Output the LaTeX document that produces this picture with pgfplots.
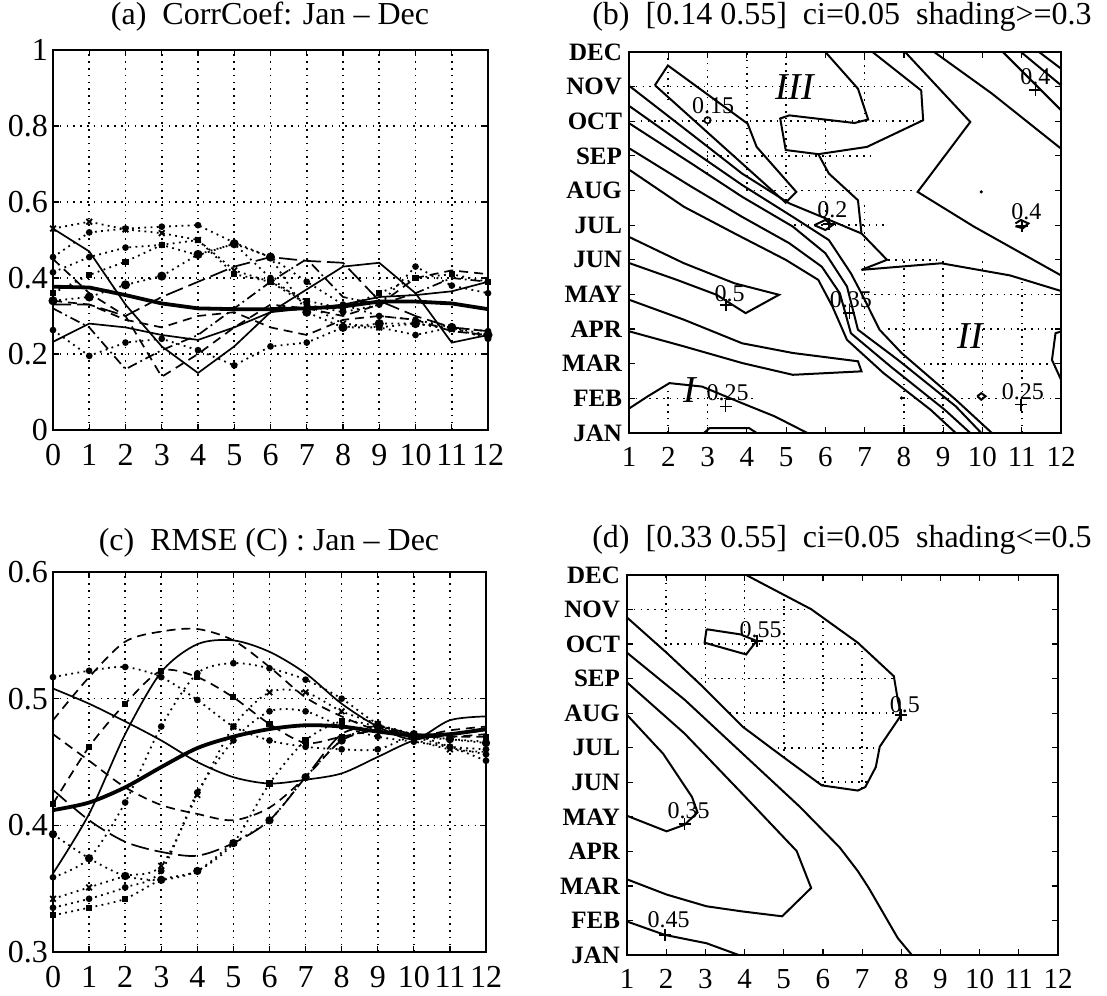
\documentclass[border=0pt]{standalone}
\usepackage{fontspec}
\setmainfont{Liberation Serif}
\usepackage{pgfplots}
\usepackage{pgfplotstable}
\pgfplotsset{compat=1.18}

% (a) correlation by lead, one column per start month, M = mean
\pgfplotstableread{
lead A B C D E F G H I J K L M
0 0.53 0.232 0.455 0.53 0.415 0.36 0.34 0.45 0.32 0.33 0.263 0.34 0.377
1 0.47 0.28 0.52 0.548 0.455 0.408 0.35 0.36 0.27 0.33 0.195 0.33 0.375
2 0.33 0.27 0.53 0.528 0.48 0.443 0.382 0.30 0.16 0.30 0.23 0.29 0.355
3 0.22 0.25 0.535 0.518 0.487 0.487 0.405 0.14 0.21 0.35 0.24 0.27 0.333
4 0.15 0.237 0.539 0.50 0.46 0.50 0.462 0.20 0.25 0.39 0.21 0.30 0.32
5 0.22 0.27 0.493 0.42 0.49 0.41 0.49 0.27 0.32 0.43 0.17 0.31 0.318
6 0.31 0.31 0.455 0.39 0.40 0.39 0.455 0.33 0.39 0.455 0.22 0.27 0.318
7 0.37 0.32 0.39 0.33 0.33 0.34 0.31 0.32 0.45 0.445 0.23 0.25 0.32
8 0.43 0.33 0.33 0.28 0.31 0.32 0.27 0.30 0.35 0.44 0.27 0.29 0.325
9 0.44 0.35 0.30 0.27 0.33 0.36 0.28 0.33 0.33 0.34 0.27 0.30 0.338
10 0.36 0.355 0.29 0.28 0.43 0.40 0.28 0.40 0.36 0.30 0.25 0.29 0.338
11 0.23 0.365 0.27 0.265 0.38 0.41 0.27 0.42 0.40 0.27 0.27 0.26 0.333
12 0.25 0.39 0.26 0.245 0.36 0.39 0.25 0.41 0.39 0.26 0.24 0.25 0.318
}\corrtab

% (c) RMSE by lead
\pgfplotstableread{
lead A B C D E F G H I J K L M
0 0.508 0.362 0.483 0.472 0.428 0.417 0.517 0.393 0.359 0.342 0.335 0.329 0.412
1 0.496 0.409 0.517 0.451 0.404 0.462 0.522 0.374 0.374 0.351 0.342 0.335 0.418
2 0.482 0.472 0.545 0.430 0.387 0.496 0.525 0.360 0.418 0.360 0.351 0.342 0.430
3 0.467 0.521 0.553 0.416 0.379 0.522 0.517 0.357 0.478 0.368 0.364 0.357 0.446
4 0.450 0.543 0.555 0.409 0.376 0.517 0.499 0.364 0.520 0.424 0.426 0.364 0.461
5 0.438 0.546 0.546 0.404 0.386 0.501 0.478 0.386 0.528 0.478 0.467 0.386 0.470
6 0.433 0.537 0.525 0.414 0.404 0.480 0.467 0.404 0.524 0.505 0.490 0.433 0.476
7 0.436 0.520 0.501 0.438 0.438 0.465 0.462 0.438 0.515 0.505 0.490 0.467 0.479
8 0.441 0.496 0.486 0.467 0.472 0.470 0.460 0.467 0.500 0.490 0.478 0.482 0.478
9 0.454 0.478 0.475 0.475 0.478 0.475 0.460 0.478 0.480 0.480 0.470 0.478 0.474
10 0.467 0.468 0.470 0.472 0.472 0.470 0.470 0.472 0.470 0.468 0.466 0.470 0.471
11 0.472 0.483 0.475 0.470 0.472 0.470 0.462 0.468 0.462 0.460 0.462 0.468 0.472
12 0.475 0.486 0.478 0.472 0.475 0.470 0.451 0.465 0.456 0.458 0.460 0.466 0.476
}\rmsetab

\tikzset{
  sol/.style={black,line width=0.85pt},
  dsh/.style={black,line width=0.85pt,dash pattern=on 4.5pt off 3pt},
  dtt/.style={black,line width=0.9pt,dash pattern=on 0.9pt off 2.2pt},
  ddt/.style={black,line width=0.85pt,dash pattern=on 5pt off 2pt on 0.9pt off 2pt},
  ldh/.style={black,line width=0.85pt,dash pattern=on 9pt off 3pt},
  mean/.style={black,line width=1.9pt},
  cnt/.style={black,line width=1pt},
  gdot/.style={black,line width=0.8pt,dash pattern=on 0.8pt off 2.6pt},
  lab/.style={font=\fontsize{12}{12}\selectfont,inner sep=0pt},
  rom/.style={font=\itshape\fontsize{19}{19}\selectfont,inner sep=0pt},
  ttl/.style={font=\fontsize{16}{16}\selectfont},
}
\pgfplotsset{
  panel/.style={scale only axis, anchor=south west, axis line style={line width=1pt},
    tick align=inside, major tick length=3pt, every tick/.append style={line width=0.6pt,black},
    /pgf/number format/assume math mode=true, unbounded coords=jump},
  lineplot/.style={panel, xmin=0, xmax=12, xtick={0,...,12}, grid=major, major grid style={gdot},
    tick label style={font=\fontsize{16}{16}\selectfont},
    xticklabel style={yshift=-3.5pt}, yticklabel style={xshift=1pt}},
  contour/.style={panel, xmin=1, xmax=12, ymin=1, ymax=12, xtick={1,...,12}, ytick={1,...,12},
    yticklabels={JAN,FEB,MAR,APR,MAY,JUN,JUL,AUG,SEP,OCT,NOV,DEC},
    xticklabel style={font=\fontsize{14.5}{14.5}\selectfont, yshift=-3.5pt},
    yticklabel style={font=\bfseries\fontsize{12.5}{12.5}\selectfont}},
}

\begin{document}
\begin{tikzpicture}
\useasboundingbox (0,0) rectangle (553.5pt,497.5pt);

% ---------------- (a)
\begin{axis}[lineplot, at={(26.5pt,282.5pt)}, width=217.5pt, height=190pt,
  ymin=0, ymax=1, ytick={0,0.2,...,1}]
\addplot[sol] table[x=lead,y=A]{\corrtab};
\addplot[sol] table[x=lead,y=B]{\corrtab};
\addplot[dtt,mark=*,mark size=1.2pt,mark options={solid}] table[x=lead,y=C]{\corrtab};
\addplot[dtt,mark=x,mark size=2pt,mark options={solid}] table[x=lead,y=D]{\corrtab};
\addplot[dtt,mark=*,mark size=1.2pt,mark options={solid}] table[x=lead,y=E]{\corrtab};
\addplot[dtt,mark=square*,mark size=1.1pt,mark options={solid}] table[x=lead,y=F]{\corrtab};
\addplot[dtt,mark=*,mark size=1.8pt,mark options={solid}] table[x=lead,y=G]{\corrtab};
\addplot[dsh] table[x=lead,y=H]{\corrtab};
\addplot[ddt] table[x=lead,y=I]{\corrtab};
\addplot[ldh] table[x=lead,y=J]{\corrtab};
\addplot[dtt,mark=*,mark size=1.2pt,mark options={solid}] table[x=lead,y=K]{\corrtab};
\addplot[dsh] table[x=lead,y=L]{\corrtab};
\addplot[mean] table[x=lead,y=M]{\corrtab};
\end{axis}
\node[ttl] at (135pt,489pt) {(a)\ \ CorrCoef: Jan -- Dec};

% ---------------- (c)
\begin{axis}[lineplot, at={(26.5pt,21.5pt)}, width=216.5pt, height=190pt,
  ymin=0.3, ymax=0.6, ytick={0.3,0.4,0.5,0.6}]
\addplot[sol,smooth,tension=0.5] table[x=lead,y=A]{\rmsetab};
\addplot[sol,smooth,tension=0.5] table[x=lead,y=B]{\rmsetab};
\addplot[dsh,smooth,tension=0.5] table[x=lead,y=C]{\rmsetab};
\addplot[dsh,smooth,tension=0.5] table[x=lead,y=D]{\rmsetab};
\addplot[ldh,smooth,tension=0.5] table[x=lead,y=E]{\rmsetab};
\addplot[dsh,smooth,tension=0.5,mark=square*,mark size=1.1pt,mark options={solid}] table[x=lead,y=F]{\rmsetab};
\addplot[dtt,smooth,tension=0.5,mark=*,mark size=1.2pt,mark options={solid}] table[x=lead,y=G]{\rmsetab};
\addplot[dtt,smooth,tension=0.5,mark=*,mark size=1.6pt,mark options={solid}] table[x=lead,y=H]{\rmsetab};
\addplot[dtt,smooth,tension=0.5,mark=*,mark size=1.2pt,mark options={solid}] table[x=lead,y=I]{\rmsetab};
\addplot[dtt,smooth,tension=0.5,mark=x,mark size=2pt,mark options={solid}] table[x=lead,y=J]{\rmsetab};
\addplot[dtt,smooth,tension=0.5,mark=*,mark size=1.2pt,mark options={solid}] table[x=lead,y=K]{\rmsetab};
\addplot[dtt,smooth,tension=0.5,mark=square*,mark size=1.1pt,mark options={solid}] table[x=lead,y=L]{\rmsetab};
\addplot[mean,smooth,tension=0.5] table[x=lead,y=M]{\rmsetab};
\end{axis}
\node[ttl] at (134.5pt,226pt) {(c)\ \ RMSE (C) : Jan -- Dec};

% ---------------- (b)
\begin{axis}[contour, at={(314.5pt,281pt)}, width=216pt, height=190.5pt]
% shading grid
\addplot[gdot] coordinates {(1,11)(8.5,11)(1,nan)(1.3,10)(8.5,10)(1,nan)(2.8,9)(7.3,9)(1,nan)
  (4.0,8)(8.3,8)(1,nan)(5.2,7)(7.5,7)(1,nan)(7.6,6)(8.9,6)(1,nan)(6.9,5)(12,5)(1,nan)
  (7.6,4)(12,4)(1,nan)(8.5,3)(12,3)(1,nan)(1,2)(4.2,2)(1,nan)(7.9,2)(12,2)};
\addplot[gdot] coordinates {(2,10.6)(2,12)(1,nan)(2,1)(2,2.5)(1,nan)(3,8.5)(3,12)(1,nan)(3,1)(3,2.3)(1,nan)
  (4,8)(4,12)(1,nan)(5,7.7)(5,12)(1,nan)(6,7)(6,10)(1,nan)(7,10)(7,12)(1,nan)(7,4)(7,7.7)(1,nan)
  (8,1)(8,6.1)(1,nan)(9,1)(9,6)(1,nan)(10,1)(10,6)(1,nan)(11,1)(11,5.4)};
% contour lines
\addplot[cnt] coordinates {(1.66,11.04)(1.99,11.61)(4.02,9.93)(4.25,9.26)(5.26,7.96)(4.99,7.65)(1.66,11.04)};
\addplot[cnt] coordinates {(6.0,12)(6.83,10.94)(7.09,10.05)(6.74,9.95)(5.08,10.17)(4.85,10.08)(4.99,9.17)(5.82,9.05)};
\addplot[cnt] coordinates {(7.20,12)(8.44,10.89)(8.49,10.03)(7.06,9.26)(5.82,9.05)(6.09,8.49)(6.83,7.72)(6.92,6.76)(7.57,6.0)(6.92,5.71)};
\addplot[cnt] coordinates {(6.92,5.71)(8.95,5.90)(10.70,5.55)(12,5.1)};
\addplot[cnt] coordinates {(8.03,12)(9.69,9.98)(8.35,7.96)(9.78,6.96)(12,5.55)};
\addplot[cnt] coordinates {(8.77,12)(10.24,10.80)(12,9.21)};
\addplot[cnt] coordinates {(10.52,12)(12,10.32)};
\addplot[cnt] coordinates {(10.98,12)(12,11.04)};
\addplot[cnt] coordinates {(11.44,12)(12,11.52)};
\addplot[cnt] coordinates {(1.02,11.01)(2.68,9.55)(3.88,8.49)(5.08,7.63)(5.91,7.24)(6.92,6.76)};
\addplot[cnt] coordinates {(1.02,10.43)(2.59,9.17)(3.88,8.16)(5.17,7.24)(6.09,6.57)(6.65,5.61)(6.92,5.03)(7.38,3.98)(7.94,3.31)(9.32,1.96)(10.24,1)};
\addplot[cnt] coordinates {(1.02,9.93)(2.59,8.78)(3.88,7.82)(5.17,6.96)(6.0,6.19)(6.55,5.23)(6.83,3.98)(7.85,3.11)(9.32,1.77)(9.97,1)};
\addplot[cnt] coordinates {(1.02,9.21)(2.59,8.11)(3.88,7.24)(5.08,6.48)(5.91,5.80)(6.37,5.03)(6.65,3.88)(7.66,2.92)(9.04,1.67)(9.69,1)};
\addplot[cnt] coordinates {(1.02,8.59)(2.40,7.53)(3.69,6.76)(4.99,6.0)(5.82,5.42)(6.18,4.65)(6.55,3.69)(7.48,2.73)(8.68,1.67)(9.32,1)};
\addplot[cnt] coordinates {(1.02,6.65)(2.40,5.90)(3.69,5.32)(4.82,4.99)(3.97,4.46)(3.23,4.99)(2.22,5.42)(1.02,5.90)};
\addplot[cnt] coordinates {(1.02,4.84)(2.40,4.27)(3.88,3.59)(5.17,3.31)(6.83,3.07)(6.92,2.78)(5.17,2.68)(3.88,3.02)(2.40,3.50)(1.02,3.93)};
\addplot[cnt] coordinates {(1.02,1.72)(1.48,2.06)(2.03,2.44)(2.86,2.34)(3.88,1.86)(4.71,1.48)(5.54,1)};
\addplot[cnt] coordinates {(2.91,1)(3.05,1.14)(4.06,1.14)(4.25,1)};
\addplot[cnt] coordinates {(5.72,7.0)(6.0,7.15)(6.18,7.0)(6.0,6.86)(5.72,7.0)};
\addplot[cnt] coordinates {(10.84,7.05)(10.98,7.15)(11.17,7.05)(11.03,6.91)(10.84,6.97)};
\addplot[cnt] coordinates {(9.87,2.06)(9.97,2.15)(10.08,2.06)(9.97,1.96)(9.87,2.06)};
\addplot[cnt] coordinates {(12,3.93)(11.86,3.88)(11.77,3.11)(12,2.54)};
% clabel markers
\addplot[only marks,mark=+,mark size=3pt,line width=0.8pt] coordinates {(6.09,7.03)(11.35,10.91)(3.47,4.69)(6.61,4.46)(3.46,1.77)(10.98,1.82)(11.0,6.98)};
\addplot[only marks,mark=o,mark size=1.6pt,line width=0.8pt] coordinates {(3.0,10.03)};
\addplot[only marks,mark=*,mark size=0.6pt] coordinates {(9.97,7.96)(7.94,2.01)};
\node[lab] at (axis cs:3.14,10.46) {0.15};
\node[lab] at (axis cs:6.18,7.44) {0.2};
\node[lab] at (axis cs:11.35,11.28) {0.4};
\node[lab] at (axis cs:11.12,7.39) {0.4};
\node[lab] at (axis cs:3.56,5.03) {0.5};
\node[lab] at (axis cs:6.65,4.84) {0.35};
\node[lab] at (axis cs:3.51,2.15) {0.25};
\node[lab] at (axis cs:11.03,2.20) {0.25};
\node[rom] at (axis cs:5.22,10.99) {III};
\node[rom] at (axis cs:9.69,3.79) {II};
\node[rom] at (axis cs:2.54,2.25) {I};
\end{axis}
\node[ttl] at (421pt,489pt) {(b)\ \ [0.14 0.55]\ \ ci=0.05\ \ shading>=0.3};

% ---------------- (d)
\begin{axis}[contour, at={(313.5pt,20pt)}, width=215.5pt, height=190pt]
\addplot[gdot] coordinates {(1,11)(5.71,11)(1,nan)(1.76,10)(6.93,10)(1,nan)(2.71,9)(7.82,9)(1,nan)
  (3.61,8)(7.99,8)(1,nan)(4.67,7)(7.43,7)(1,nan)(5.86,6)(7.15,6)};
\addplot[gdot] coordinates {(2,9.76)(2,12)(1,nan)(3,8.69)(3,12)(1,nan)(4,7.57)(4,12)(1,nan)
  (5,6.72)(5,11.43)(1,nan)(6,5.9)(6,10.77)(1,nan)(7,5.82)(7,9.92)};
\addplot[cnt] coordinates {(4.04,12)(5.70,11.01)(6.89,10.04)(7.81,9.07)(7.91,8.39)(8.0,7.95)(7.45,7.03)(7.35,6.44)(7.08,5.86)(6.89,5.76)(5.97,5.91)(4.87,6.83)(3.95,7.61)(2.93,8.77)(2.01,9.75)(1.0,10.77)};
\addplot[cnt] coordinates {(3.03,10.43)(3.90,10.28)(4.31,10.09)(4.04,9.70)(2.98,10.04)(3.03,10.43)};
\addplot[cnt] coordinates {(1.0,9.75)(2.47,8.39)(3.95,6.83)(5.42,5.28)(6.43,4.11)(6.89,3.43)(7.17,2.94)(7.91,1.49)(8.27,1.0)};
\addplot[cnt] coordinates {(1.0,8.89)(2.47,7.41)(3.95,5.66)(5.33,4.01)(5.70,2.94)(4.96,2.12)(3.95,2.26)(3.03,2.41)(2.01,2.75)(1.0,3.19)};
\addplot[cnt] coordinates {(1.0,7.95)(1.92,6.83)(2.66,5.57)(2.80,5.13)(2.47,4.77)(2.01,4.58)(1.0,5.03)};
\addplot[cnt] coordinates {(1.0,1.97)(1.97,1.58)(3.03,1.34)(3.85,1.0)};
\addplot[only marks,mark=+,mark size=3pt,line width=0.8pt] coordinates {(4.31,10.09)(8.0,7.95)(2.47,4.79)(1.97,1.58)};
\node[lab] at (axis cs:4.41,10.43) {0.55};
\node[lab] at (axis cs:8.09,8.24) {0.5};
\node[lab] at (axis cs:2.57,5.18) {0.35};
\node[lab] at (axis cs:2.06,2.02) {0.45};
\end{axis}
\node[ttl] at (421pt,227.5pt) {(d)\ \ [0.33 0.55]\ \ ci=0.05\ \ shading<=0.5};
\end{tikzpicture}
\end{document}
